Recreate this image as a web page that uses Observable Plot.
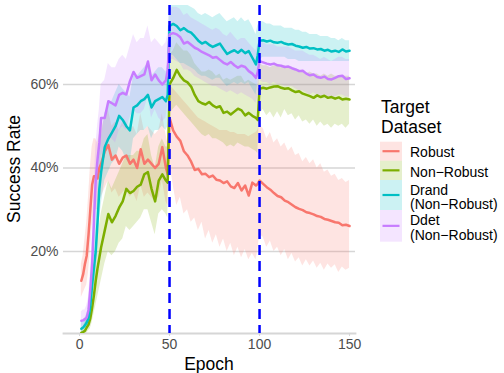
<!DOCTYPE html>
<html><head><meta charset="utf-8">
<script src="https://cdn.jsdelivr.net/npm/d3@7"></script>
<script src="https://cdn.jsdelivr.net/npm/@observablehq/plot@0.6"></script>
<style>body{margin:0;background:#fff} svg{display:block}</style>
</head><body><div id="chart"></div>
<script>
const epochs = [1,2,3,4,5,6,7,8,9,10,11,12,
  14,16,18,20,22,24,26,28,30,32,34,36,38,40,42,44,46,48,
  49,50,
  52,54,56,58,60,62,64,66,68,70,72,74,76,78,80,82,84,86,88,90,92,94,96,98,
  99,100,
  102,104,106,108,110,112,114,116,118,120,122,124,126,128,130,132,134,136,138,140,142,144,146,148,150];

const seriesNames = ["Robust", "Non\u2212Robust", "Drand (Non\u2212Robust)", "Ddet (Non\u2212Robust)"];
const seriesColors = ["#F8766D", "#7CAE00", "#00BFC4", "#C77CFF"];
const xTicks = [0, 50, 100, 150];
const yTicks = [20, 40, 60];
const phaseMarks = [50, 100];

const robustMean = [13,14.5,17,19,24,30,36,38,38,37.5,40,41,
  44,45.5,42,43,41,42.5,43,41,42,40,44.5,41,42,41,40,41,45,40,
  38.5,52,
  49,47.5,46.5,44,43,41.5,39.5,39.8,38.5,38.6,37.8,38.2,37.2,37,36.4,36.8,35.6,35.2,36.4,34.6,35.8,33.4,36.5,35.8,
  36.2,37,
  36.2,35.4,34.8,34,33.3,33,32.2,31.8,31.2,30.6,30.2,29.9,29.4,29.2,28.9,28.5,28.3,27.8,27.6,27.3,27,26.9,26.3,26.4,26.1];
const robustLo = [9,10,11,12,15,20,26,29,30,30,32,33,
  35,37,34,35,33,34,35,33,34,32,36,33,34,33,32,33,37,32,
  31,42,
  36,31,33,29,30,27,28,25,27,23,25,22,24,21,23,20,22,19,21,18.5,20.5,18,19.5,18,
  20,24,
  23.5,21,22.5,20,21,19,20.5,18,19.5,17.5,18.5,16.5,18,16.5,17.7,16,17.2,15.5,17,16,16.8,15,16.3,15.5,16];
const robustHi = [17,19,23,27,33,40,45,47,47,46,48,49,
  52,54,50,51,49,51,51,49,50,48,53,49,50,49,48,49,53,48,
  46,60,
  59,58,57,56,55,54,53,52,51.5,51,50.5,50,49.5,49,49,49,48.5,48.5,48,48,48,47.5,48,48.5,
  49,50,
  49.5,47,48.5,46,47,45,46,44,45,43,43.5,41.5,42.5,41,42,40,41,39,39.5,38,38.5,37,37.5,36.5,37];

const nonMean = [0.5,0.7,1,1.8,2.5,4,6.5,9.5,13,16,18.5,21,
  25,29,27,28.5,30.5,32,35,34,34.5,35.5,36,38.5,39,35,32,37,38.5,37,
  36.5,60,
  61.5,63.5,62,61,60.5,59.5,57.5,56,55.5,55.2,55.8,55,54.5,54.8,53.2,53.5,52.8,53.5,54.2,53.8,52.6,53.2,52.5,52,
  51.5,59,
  59.2,59,59.3,59.5,59.6,59.2,59,59.1,58.6,58.2,58.4,57.8,57.5,57.2,56.8,57.4,57,57.3,56.8,57,56.6,56.9,56.4,56.6,56.4];
const nonLo = [0,0,0,0.5,1,1.5,3,5,7,9,11,13,
  17,20,19,20,22,23,26,25,26,27,28,30,30,27,24,29,30,29,
  28,53,
  54,55,54,53,52,51,50,49,48,47.5,48,47,47,46.5,46,45,45.5,45,46,45.5,45,45,44.5,44,
  43.5,53,
  54,52.5,53.5,52,53.5,52,54,52.5,53,51.5,52.5,51,51.5,50.5,51.5,50,51,50,50.5,49.5,50.5,50,50.5,49.5,50.5];
const nonHi = [1.5,2,3,4,5,7,11,15,19,23,26,29,
  33,37,35,37,39,41,43,43,43,44,44,47,48,43,40,45,47,45,
  45,67,
  68,70,69,68,68,67,65,64,63,63,63.5,63,62,62.5,61,61.5,61,61.5,62,62,60.5,61,60.5,60,
  59.5,65,
  64.5,64.5,64,64.5,64.5,64,64.5,64,64,63.5,63.5,63,62.5,63,62.5,62.5,62,62.5,62,62.5,62,62,62,62,62];

const drandMean = [1.5,1.8,2.3,3,4,7,12,16,20,27,35,39,
  45,47,48.5,50,52.5,51.5,50,49,54.5,55,56,56.5,57.5,54.5,56,56.5,57,56,
  57.5,74,
  74.5,74,73,73.5,72.8,72.4,71.5,70.5,69.8,70.2,69.5,69,69.4,69.8,68.5,67.3,67.8,68.2,67.6,68.3,67.5,68,66.4,64.8,
  67,70.5,
  70.6,70.3,70.5,70.1,70,70.2,69.8,69.6,69.7,69.3,69.1,68.8,69,68.6,68.7,68.4,68.5,68.1,68.3,67.9,68.1,67.8,68.4,67.9,68.1];
const drandLo = [0,0.5,1,1.5,2,4,8,11,14,20,27,31,
  37,39,41,42,45,44,42,41,47,48,49,49,50,47,49,49,50,49,
  50,67,
  67,66,65,65,64.5,64,63.5,62.5,62,62,61.5,61,61.5,61.5,60.5,59.5,60,60.5,60,60.5,60,60.5,59,57.5,
  60,66,
  66.5,66.5,66.5,66.5,66.5,66.5,66.5,66,66,66,65.5,65.5,65.5,65.5,65.5,65.5,65.5,65.5,65.5,65.5,65.5,65.5,65.5,65.5,65.5];
const drandHi = [3,3.5,4,5,6.5,11,17,22,27,34,43,47,
  53,55,56,58,60,59,58,57,62,62,63,64,65,62,63,64,64,63,
  65,80,
  80,80,79,79,79,78.5,78,77,76.5,77,76.5,76,76.5,77,76,75,75.5,76,75,76,75,75.5,74,72,
  74,75,
  75,74.5,74.5,74,74,74,73.5,73.5,73.5,73,73,72.5,72.5,72,72,72,71.5,71.5,71.5,71,71,70.5,71,70.5,70.5];

const ddetMean = [3.4,3.5,3.8,4.2,6,11,17,27,37,42,46,52,
  52,56,55.5,55,57.5,58,57.6,60.8,63,61.6,62,62.4,65.5,61,62.4,61,60,61,
  63.5,72,
  72.3,72,71.3,69.8,70.2,69.5,68.8,68.4,67.8,67.4,67,66.4,66.6,65.9,65.2,64.8,65.4,64.6,64,64.5,64.2,63.2,62.6,61.6,
  63,65.6,
  65.3,65,64.8,65,64.6,64.5,64.2,64.3,63.9,63.6,63.2,63.3,62.6,62.2,62.4,61.8,61.6,61.9,61.3,61.2,61.6,62,62.1,61.3,61.5];
const ddetLo = [1.5,1.5,2,2.5,3.5,7,12,20,29,34,38,43,
  44,47,47,46,49,50,49,52,54,53,53,54,57,52,54,52,51,52,
  55,66,
  66,65.5,65,63.5,63.5,63,62,61.5,61,60.5,60,59.5,59.5,59,58.5,58,58.5,58,57.5,58,57.5,57,56.5,55.5,
  57,61,
  60.5,60.5,60,60.5,60,60,59.5,59.5,59.5,59,58.5,58.5,58,57.5,58,57.5,57,57.5,57,57,57,57.5,57.5,57,57];
const ddetHi = [5.5,6,6,7,9,15,23,34,45,50,54,60,
  61,65,64,64,66,67,66,69,72,70,71,71,74,70,71,70,69,70,
  72,78,
  78.5,78.5,78,76.5,77,76,75.5,75,74.5,74,73.5,73,73.5,73,72,71.5,72.5,71.5,70.5,71,71,70,69,68,
  69.5,70,
  70,69.5,69.5,69.5,69,69,69,69,68.5,68,68,68,67.5,67,67,66.5,66,66.5,66,65.5,66,66.5,66.5,66,66];

const series = [
  {name: seriesNames[0], mean: robustMean, lo: robustLo, hi: robustHi},
  {name: seriesNames[1], mean: nonMean, lo: nonLo, hi: nonHi},
  {name: seriesNames[2], mean: drandMean, lo: drandLo, hi: drandHi},
  {name: seriesNames[3], mean: ddetMean, lo: ddetLo, hi: ddetHi}
];
const rows = [];
series.forEach(s => epochs.forEach((e, i) => rows.push({epoch: e, series: s.name, mean: s.mean[i], lo: s.lo[i], hi: s.hi[i]})));

const FONT = "'Liberation Sans', Arial, Helvetica, sans-serif";
const chart = Plot.plot({
  width: 504, height: 373,
  marginLeft: 63, marginRight: 149, marginTop: 5, marginBottom: 40,
  x: {domain: [-8.9, 153.3]},
  y: {domain: [0.36, 78.92]},
  color: {domain: seriesNames, range: seriesColors},
  style: {fontFamily: FONT, fontSize: "14px", background: "#fff", color: "#4d4d4d"},
  marks: [
    Plot.ruleY(yTicks, {stroke: "#d6d6d6", strokeWidth: 1.5}),
    Plot.frame({anchor: "bottom", stroke: "#d6d6d6", strokeWidth: 1.8}),
    Plot.areaY(rows, {x: "epoch", y1: "lo", y2: "hi", z: "series", fill: "series", fillOpacity: 0.2, clip: true}),
    Plot.lineY(rows, {x: "epoch", y: "mean", z: "series", stroke: "series", strokeWidth: 2.5, clip: true}),
    Plot.ruleX(phaseMarks, {stroke: "#0000FF", strokeWidth: 2.5, strokeDasharray: "10,6"}),
    Plot.axisX(xTicks, {tickSize: 3, tickPadding: 3, stroke: "#d6d6d6", fill: "#4d4d4d", label: null, fontSize: 14}),
    Plot.axisY(yTicks, {tickSize: 0, tickPadding: 5, tickFormat: d => d + "%", fill: "#4d4d4d", label: null, fontSize: 14})
  ]
});
document.getElementById("chart").appendChild(chart);

const svg = d3.select(chart);
svg.append("text").attr("x", 209).attr("y", 370).attr("text-anchor", "middle")
  .attr("font-family", FONT).attr("font-size", 17.5).attr("fill", "#000").text("Epoch");
svg.append("text").attr("transform", "translate(20,169) rotate(-90)").attr("text-anchor", "middle")
  .attr("font-family", FONT).attr("font-size", 17.5).attr("fill", "#000").text("Success Rate");

const lg = svg.append("g").attr("font-family", FONT).attr("text-anchor", "start");
lg.append("text").attr("x", 381).attr("y", 113).attr("font-size", 17.5).attr("fill", "#000").text("Target");
lg.append("text").attr("x", 381).attr("y", 133).attr("font-size", 17.5).attr("fill", "#000").text("Dataset");
const keys = [
  {top: 141.7, h: 19, lines: ["Robust"], base: [157]},
  {top: 160.7, h: 19.3, lines: ["Non\u2212Robust"], base: [176.5]},
  {top: 180, h: 30, lines: ["Drand", "(Non\u2212Robust)"], base: [195, 209]},
  {top: 210, h: 31.7, lines: ["Ddet", "(Non\u2212Robust)"], base: [225, 240]}
];
keys.forEach((k, i) => {
  lg.append("rect").attr("x", 380).attr("y", k.top).attr("width", 22).attr("height", k.h)
    .attr("fill", seriesColors[i]).attr("fill-opacity", 0.2);
  const cy = k.top + k.h / 2;
  lg.append("line").attr("x1", 382.5).attr("x2", 399.5).attr("y1", cy).attr("y2", cy)
    .attr("stroke", seriesColors[i]).attr("stroke-width", 2.2);
  k.lines.forEach((t, j) => lg.append("text").attr("x", 410).attr("y", k.base[j])
    .attr("text-anchor", "start").attr("font-size", 14).attr("fill", "#000").text(t));
});
</script>
</body></html>
